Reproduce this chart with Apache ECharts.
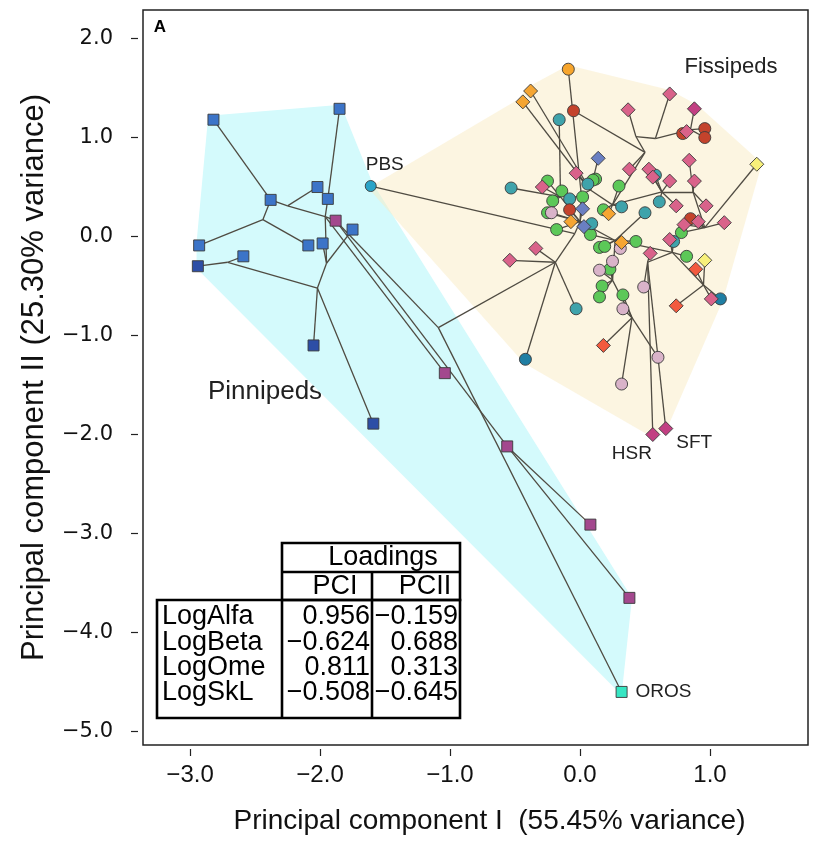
<!DOCTYPE html>
<html>
<head>
<meta charset="utf-8">
<script src="https://cdn.jsdelivr.net/npm/echarts@6.0.0/dist/echarts.min.js"></script>
<style>
  html, body { margin: 0; padding: 0; background: #fff; }
  #chart { width: 815px; height: 842px; }
</style>
</head>
<body>
<div id="chart"></div>
<script>
// ticks
var xTicks = [-3, -2, -1, 0, 1];
var yTicks = [2, 1, 0, -1, -2, -3, -4, -5];

// tips: [name, PC1, PC2, parent node]
var pinnipedBlue = [
    ['P1', -2.82, 1.18, 'P3'],
    ['P2', -1.85, 1.29, 'P5'],
    ['P3', -2.38, 0.37, 'C'],
    ['P4', -2.02, 0.50, 'C'],
    ['P5', -1.94, 0.38, 'D'],
    ['P6', -2.93, -0.09, 'A'],
    ['P8', -2.59, -0.20, 'H'],
    ['P9', -2.09, -0.09, 'A'],
    ['P10', -1.98, -0.07, 'E'],
    ['P11', -1.75, 0.07, 'E']
];
var pinnipedNavy = [
    ['P7', -2.94, -0.30, 'H'],
    ['P12', -2.05, -1.10, 'J'],
    ['P13', -1.59, -1.89, 'J']
];
var pinnipedMauve = [
    ['M1', -1.88, 0.16, 'K'],
    ['M2', -1.04, -1.38, 'D'],
    ['M3', -0.56, -2.12, 'M1'],
    ['M4', 0.08, -2.91, 'M3'],
    ['M5', 0.38, -3.65, 'M3']
];
var orosPoint = [['OROS', 0.32, -4.60, 'K']];
var pbsPoint = [['PBS', -1.61, 0.51, 'Nt']];

var orangeCircles = [['', -0.09, 1.69, 'Na']];
var orangeDiamonds = [
    ['', -0.38, 1.47, 'Nc'], ['', -0.44, 1.36, 'Nc'], ['', 0.22, 0.23, 'Nd'],
    ['', -0.07, 0.15, 'No'], ['', 0.32, -0.06, 'Np']
];
var redCircles = [
    ['', -0.05, 1.27, 'Ne'], ['', 0.96, 1.09, 'Nh'], ['', 0.96, 1.00, 'Nh'],
    ['', 0.79, 1.04, 'Nh'], ['', -0.08, 0.27, 'No'], ['', 0.85, 0.18, 'Nl']
];
var tealCircles = [
    ['', -0.16, 1.18, 'Nb'], ['', 0.58, 0.62, 'Nj'], ['', 0.06, 0.53, 'Nc'],
    ['', -0.53, 0.49, 'Nb'], ['', -0.08, 0.38, 'Na'], ['', 0.61, 0.35, 'Nj'],
    ['', 0.32, 0.30, 'Nd'], ['', 0.50, 0.24, 'Np'], ['', 0.09, 0.13, 'No'],
    ['', 0.72, -0.05, 'Nm'], ['', -0.03, -0.73, 'Nr']
];
var darkTealCircles = [['', -0.42, -1.24, 'Nr'], ['', 1.08, -0.63, 'Nn']];
var pinkDiamonds = [
    ['', 0.37, 1.28, 'Nf'], ['', 0.69, 1.44, 'Ng'], ['', 0.82, 1.06, 'Nh'],
    ['', 0.84, 0.77, 'Nk'], ['', 0.38, 0.68, 'Ne'], ['', 0.53, 0.68, 'Nj'],
    ['', 0.56, 0.60, 'Nj'], ['', 0.69, 0.56, 'Nj'], ['', 0.88, 0.56, 'Nk'],
    ['', -0.03, 0.64, 'Nc'], ['', -0.29, 0.50, 'Nb'], ['', 0.74, 0.31, 'Nj'],
    ['', 0.97, 0.31, 'Nk'], ['', 0.80, 0.12, 'Nl'], ['', 0.91, 0.15, 'Nl'],
    ['', 1.11, 0.14, 'Nl'], ['', 0.69, -0.03, 'Nm'], ['', -0.34, -0.12, 'Nr'],
    ['', -0.54, -0.24, 'Nr'], ['', 0.54, -0.17, 'Nu'], ['', 1.01, -0.63, 'Nn']
];
var magentaDiamonds = [
    ['', 0.88, 1.29, 'Nh'], ['HSR', 0.56, -2.00, 'Nu'], ['SFT', 0.66, -1.94, 'Nu']
];
var slateDiamonds = [['', 0.14, 0.79, 'Nc'], ['', 0.02, 0.28, 'No'], ['', 0.03, 0.10, 'No']];
var greenCircles = [
    ['', -0.25, 0.56, 'Nb'], ['', 0.12, 0.58, 'Nc'], ['', 0.10, 0.57, 'Nc'],
    ['', -0.14, 0.46, 'Nb'], ['', 0.30, 0.51, 'Nd'], ['', 0.02, 0.40, 'Na'],
    ['', -0.21, 0.36, 'Nb'], ['', -0.25, 0.24, 'No'], ['', 0.18, 0.27, 'Nd'],
    ['', -0.18, 0.07, 'No'], ['', 0.08, 0.02, 'Np'], ['', 0.78, 0.04, 'Nl'],
    ['', 0.43, -0.05, 'Np'], ['', 0.15, -0.11, 'Np'], ['', 0.19, -0.10, 'Np'],
    ['', 0.82, -0.20, 'Nm'], ['', 0.23, -0.33, 'Nq'], ['', 0.17, -0.50, 'Nq'],
    ['', 0.15, -0.61, 'Nq'], ['', 0.33, -0.59, 'Ns']
];
var lilacCircles = [
    ['', -0.22, 0.24, 'No'], ['', 0.31, -0.12, 'Np'], ['', 0.25, -0.25, 'Nq'],
    ['', 0.15, -0.34, 'Nq'], ['', 0.49, -0.51, 'Nu'], ['', 0.33, -0.73, 'Ns'],
    ['', 0.60, -1.22, 'Ns'], ['', 0.32, -1.49, 'Ns']
];
var redOrangeDiamonds = [['', 0.89, -0.33, 'Nn'], ['', 0.74, -0.70, 'Nn'], ['', 0.18, -1.10, 'Ns']];
var yellowDiamonds = [['', 1.36, 0.73, 'Nl'], ['', 0.96, -0.24, 'Nn']];

// internal nodes of the tree
var innerNodes = [
    ['A', -2.44, 0.17, 'P3'], ['C', -2.25, 0.31, 'D'], ['D', -1.96, 0.20, 'M1'],
    ['E', -1.95, -0.27, 'D'], ['H', -2.71, -0.26, 'J'], ['J', -2.02, -0.52, 'E'],
    ['K', -1.09, -0.92, ''],
    ['Na', 0.01, 0.42, 'No'], ['Nb', -0.15, 0.40, 'No'], ['Nc', 0.08, 0.47, 'Na'],
    ['Nd', 0.25, 0.32, 'Nc'], ['Ne', 0.50, 0.85, 'Nd'], ['Nf', 0.43, 1.01, 'Ne'],
    ['Ng', 0.58, 0.99, 'Nf'], ['Nh', 0.85, 1.08, 'Ng'], ['Nj', 0.63, 0.45, 'Nd'],
    ['Nk', 0.87, 0.45, 'Nj'], ['Nl', 0.96, 0.09, 'Nk'], ['Nm', 0.71, -0.16, 'Np'],
    ['Nn', 0.95, -0.49, 'Nm'], ['No', 0.00, 0.15, 'Nt'], ['Np', 0.27, -0.04, 'No'],
    ['Nq', 0.25, -0.44, 'Np'], ['Nr', -0.19, -0.26, 'K'], ['Ns', 0.40, -0.82, 'Nq'],
    ['Nu', 0.52, -0.26, 'Nm'], ['Nt', -0.04, 0.03, 'Nr']
];

// convex hulls
var pinnipedHull = [[-2.86, 1.22], [-1.84, 1.33], [-1.60, 0.55], [0.40, -3.65], [0.32, -4.63], [-2.95, -0.32], [-2.95, -0.06]];
var fissipedHull = [[-1.63, 0.49], [-0.47, 1.39], [-0.40, 1.51], [-0.09, 1.73], [0.69, 1.48], [0.90, 1.33], [1.40, 0.74], [1.10, -0.64], [0.68, -1.91], [0.56, -2.03], [-0.43, -1.28]];

// loadings table
var loadingVars = ['LogAlfa', 'LogBeta', 'LogOme', 'LogSkL'];
var loadingPC1 = [0.956, -0.624, 0.811, -0.508];
var loadingPC2 = [-0.159, 0.688, 0.313, -0.645];

var allPoints = [].concat(pinnipedBlue, pinnipedNavy, pinnipedMauve, orosPoint, pbsPoint,
    orangeCircles, orangeDiamonds, redCircles, tealCircles, darkTealCircles, pinkDiamonds,
    magentaDiamonds, slateDiamonds, greenCircles, lilacCircles, redOrangeDiamonds, yellowDiamonds, innerNodes);

var lookup = {};
allPoints.forEach(function (p) { if (p[0]) lookup[p[0]] = [p[1], p[2]]; });
var edges = [];
allPoints.forEach(function (p) {
    if (p[3] && lookup[p[3]]) edges.push({ coords: [[p[1], p[2]], lookup[p[3]]] });
});

var FONT = 'Liberation Sans, Arial, sans-serif';
var minus = function (v, d) { return (v < 0 ? '\u2212' : '') + Math.abs(v).toFixed(d); };

var labelSpec = {
    PBS: { show: true, position: 'top', offset: [14, -1], fontSize: 19 },
    HSR: { show: true, position: 'bottom', offset: [-21, -3], fontSize: 19 },
    SFT: { show: true, position: 'right', offset: [-2, 14], fontSize: 19 },
    OROS: { show: true, position: 'right', distance: 8, fontSize: 19 }
};

function tips(arr, symbol, size, color) {
    return {
        type: 'scatter', symbol: symbol, symbolSize: size, z: 5, silent: true,
        itemStyle: { color: color, borderColor: '#3a3a3a', borderWidth: 0.9, opacity: 1 },
        data: arr.map(function (p) {
            var item = { name: p[0], value: [p[1], p[2]] };
            if (labelSpec[p[0]]) {
                item.label = Object.assign({ formatter: p[0], color: '#222', fontFamily: FONT }, labelSpec[p[0]]);
            }
            return item;
        })
    };
}

function hull(points, fill, z) {
    return {
        type: 'custom', silent: true, z: z, data: [[0, 0]],
        renderItem: function (params, api) {
            return {
                type: 'polygon',
                shape: { points: points.map(function (p) { return api.coord(p); }) },
                style: { fill: fill }
            };
        }
    };
}

// table graphics
var tableGraphics = [];
var lineStyle = { stroke: '#000', lineWidth: 2.6, fill: null };
tableGraphics.push({ type: 'rect', shape: { x: 282, y: 543, width: 178, height: 57 }, style: lineStyle });
tableGraphics.push({ type: 'rect', shape: { x: 157, y: 600, width: 303, height: 118 }, style: lineStyle });
tableGraphics.push({ type: 'line', shape: { x1: 282, y1: 572, x2: 460, y2: 572 }, style: lineStyle });
tableGraphics.push({ type: 'line', shape: { x1: 282, y1: 600, x2: 282, y2: 718 }, style: lineStyle });
tableGraphics.push({ type: 'line', shape: { x1: 372, y1: 572, x2: 372, y2: 718 }, style: lineStyle });
var tStyle = function (txt, x, y, align) {
    return { type: 'text', x: x, y: y, style: { text: txt, font: '27px ' + FONT, fill: '#000', align: align, verticalAlign: 'middle' } };
};
tableGraphics.push(tStyle('Loadings', 383, 558, 'center'));
tableGraphics.push(tStyle('PCI', 335, 587, 'center'));
tableGraphics.push(tStyle('PCII', 425, 587, 'center'));
loadingVars.forEach(function (v, i) {
    var y = 617 + i * 25.3;
    tableGraphics.push(tStyle(v, 162, y, 'left'));
    tableGraphics.push(tStyle(minus(loadingPC1[i], 3), 370, y, 'right'));
    tableGraphics.push(tStyle(minus(loadingPC2[i], 3), 458, y, 'right'));
});

var chart = echarts.init(document.getElementById('chart'));
chart.setOption({
    animation: false,
    backgroundColor: '#fff',
    grid: { left: 143, right: 7, top: 10, bottom: 97, show: true, borderColor: '#222', borderWidth: 1.5, backgroundColor: 'transparent' },
    xAxis: {
        type: 'value', min: -3.362, max: 1.754, offset: 4,
        axisLine: { show: false, onZero: false },
        axisTick: { show: true, length: 7, customValues: xTicks, lineStyle: { color: '#222', width: 1.2 } },
        axisLabel: { customValues: xTicks, formatter: function (v) { return minus(v, 1); }, fontSize: 24, color: '#111', fontFamily: FONT, margin: 14 },
        splitLine: { show: false },
        name: 'Principal component I  (55.45% variance)', nameLocation: 'middle', nameGap: 58,
        nameTextStyle: { fontSize: 28, color: '#111', fontFamily: FONT, padding: [0, 0, 0, 28] }
    },
    yAxis: {
        type: 'value', min: -5.136, max: 2.288, offset: 5,
        axisLine: { show: false, onZero: false },
        axisTick: { show: true, length: 7, customValues: yTicks, lineStyle: { color: '#222', width: 1.2 } },
        axisLabel: { customValues: yTicks, formatter: function (v) { return minus(v, 1); }, fontSize: 21, color: '#111', fontFamily: 'DejaVu Sans', margin: 25 },
        splitLine: { show: false },
        name: 'Principal component II (25.30% variance)', nameLocation: 'middle', nameGap: 88,
        nameTextStyle: { fontSize: 31, color: '#111', fontFamily: FONT }
    },
    graphic: [
        { type: 'text', x: 160, y: 27, style: { text: 'A', font: 'bold 17px ' + FONT, fill: '#000', align: 'center', verticalAlign: 'middle' } },
        { type: 'text', x: 731, y: 67, style: { text: 'Fissipeds', font: '22px ' + FONT, fill: '#222', align: 'center', verticalAlign: 'middle' } },
        { type: 'text', x: 265, y: 392, style: { text: 'Pinnipeds', font: '26px ' + FONT, fill: '#222', align: 'center', verticalAlign: 'middle' } }
    ].concat(tableGraphics),
    series: [
        hull(pinnipedHull, 'rgb(212,250,252)', 1),
        hull(fissipedHull, 'rgba(250,236,195,0.5)', 2),
        {
            type: 'lines', coordinateSystem: 'cartesian2d', silent: true, z: 3,
            lineStyle: { color: '#4f4b42', width: 1.3, opacity: 1 },
            data: edges
        },
        tips(pinnipedBlue, 'rect', 11, '#3c74c8'),
        tips(pinnipedNavy, 'rect', 11, '#2d4ea6'),
        tips(pinnipedMauve, 'rect', 11, '#a3488e'),
        tips(orosPoint, 'rect', 11, '#37e6c3'),
        tips(pbsPoint, 'circle', 11, '#2aa3c8'),
        tips(greenCircles, 'circle', 12, '#5cc858'),
        tips(tealCircles, 'circle', 12, '#3fa3ab'),
        tips(darkTealCircles, 'circle', 12, '#1f7ea3'),
        tips(lilacCircles, 'circle', 12, '#d9b3c9'),
        tips(redCircles, 'circle', 12, '#c4432c'),
        tips(orangeCircles, 'circle', 12, '#f7a52c'),
        tips(orangeDiamonds, 'diamond', 14, '#f5a532'),
        tips(pinkDiamonds, 'diamond', 14, '#d9628a'),
        tips(magentaDiamonds, 'diamond', 14, '#c23f82'),
        tips(slateDiamonds, 'diamond', 14, '#6a7fc2'),
        tips(redOrangeDiamonds, 'diamond', 14, '#f25a3e'),
        tips(yellowDiamonds, 'diamond', 14, '#f7f07a')
    ]
});
</script>
</body>
</html>
